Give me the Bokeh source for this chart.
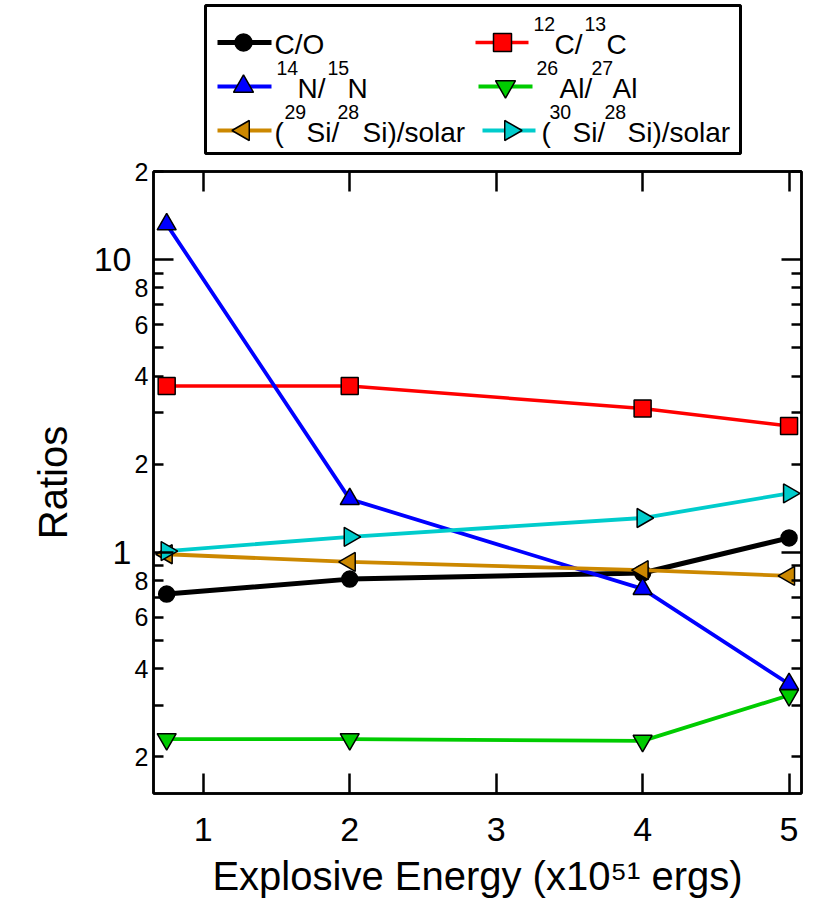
import math
from bokeh.plotting import figure
from bokeh.models import (Range1d, FixedTicker, LogAxis, LinearAxis,
                          CustomJSTickFormatter, ColumnDataSource)
from bokeh.layouts import column
from bokeh.core.properties import value
from bokeh.embed import file_html
from bokeh.resources import INLINE

FONT = "Liberation Sans"

# ---------------- data ----------------
energy = [0.75, 2, 4, 5]
co_ratio = [0.72, 0.81, 0.85, 1.12]
c12_c13 = [3.70, 3.70, 3.10, 2.70]
n14_n15 = [13.2, 1.52, 0.75, 0.355]
al26_al27 = [0.230, 0.230, 0.227, 0.325]
si29_si28 = [0.985, 0.927, 0.869, 0.831]
si30_si28 = [1.01, 1.13, 1.31, 1.59]

x_ticks = [1, 2, 3, 4, 5]
y_major = [1, 10]
y_labeled = [0.2, 0.4, 0.6, 0.8, 2, 4, 6, 8, 20]
y_minor = [0.2, 0.3, 0.4, 0.5, 0.6, 0.7, 0.8, 0.9,
           2, 3, 4, 5, 6, 7, 8, 9, 20]

series = [
    # values, color, marker, angle, size, line width
    (co_ratio, "black", "circle", 0.0, 16, 5),
    (c12_c13, "#ff0000", "square", 0.0, 17, 3.5),
    (n14_n15, "#0000ff", "triangle", 0.0, 19, 3.8),
    (al26_al27, "#00cc00", "inverted_triangle", 0.0, 19, 3.8),
    (si29_si28, "#cc8800", "triangle", math.pi / 2, 19, 3.8),
    (si30_si28, "#00cccc", "triangle", -math.pi / 2, 19, 3.8),
]

# ---------------- main plot ----------------
p = figure(width=832, height=744, y_axis_type="log",
           x_range=Range1d(0.66, 5.085), y_range=Range1d(0.15, 20),
           output_backend="svg", toolbar_location=None,
           min_border_left=153, min_border_right=31,
           min_border_top=15, min_border_bottom=107)
p.grid.visible = False
p.outline_line_color = "black"
p.outline_line_width = 2.5
p.background_fill_color = "white"
p.border_fill_color = "white"

empty = CustomJSTickFormatter(code="return ''")

xa = p.xaxis[0]
xa.ticker = FixedTicker(ticks=x_ticks, minor_ticks=[])
xa.major_tick_in = 20
xa.major_tick_out = 0
xa.minor_tick_in = 0
xa.minor_tick_out = 0
xa.major_tick_line_width = 2.5
xa.axis_line_width = 2.5
xa.major_label_text_font = FONT
xa.major_label_text_font_size = "34px"
xa.major_label_text_color = "black"
xa.major_label_standoff = 24
xa.axis_label = "Explosive Energy (x10\u2075\u00b9 ergs)"
xa.axis_label_text_font = FONT
xa.axis_label_text_font_size = "40px"
xa.axis_label_text_font_style = "normal"
xa.axis_label_text_color = "black"
xa.axis_label_standoff = 10

top = LinearAxis(ticker=FixedTicker(ticks=x_ticks, minor_ticks=[]),
                 formatter=empty, major_tick_in=20, major_tick_out=0,
                 minor_tick_in=0, minor_tick_out=0,
                 major_tick_line_width=2.5, axis_line_width=2.5,
                 major_label_standoff=0)
p.add_layout(top, "above")

ya = p.yaxis[0]
ya.ticker = FixedTicker(ticks=y_major, minor_ticks=y_minor)
ya.formatter = empty
ya.major_tick_in = 20
ya.major_tick_out = 0
ya.minor_tick_in = 10
ya.minor_tick_out = 0
ya.major_tick_line_width = 2.5
ya.minor_tick_line_width = 2.5
ya.minor_tick_line_color = "black"
ya.axis_line_width = 2.5
ya.major_label_standoff = 0

digit_fmt = CustomJSTickFormatter(code="""
const e = Math.floor(Math.log10(tick) + 1e-9);
return String(Math.round(tick / Math.pow(10, e)));
""")
yb = LogAxis(ticker=FixedTicker(ticks=y_labeled, minor_ticks=[]),
             formatter=digit_fmt, major_tick_in=0, major_tick_out=0,
             minor_tick_in=0, minor_tick_out=0,
             axis_line_color=None, major_tick_line_color=None,
             minor_tick_line_color=None,
             major_label_text_font=FONT, major_label_text_font_size="25px",
             major_label_text_color="black", major_label_standoff=5)
p.add_layout(yb, "left")

yc = LogAxis(ticker=FixedTicker(ticks=y_major, minor_ticks=[]),
             formatter=CustomJSTickFormatter(code="return String(tick)"),
             major_tick_in=0, major_tick_out=0,
             minor_tick_in=0, minor_tick_out=0,
             axis_line_color=None, major_tick_line_color=None,
             minor_tick_line_color=None,
             major_label_text_font=FONT, major_label_text_font_size="34px",
             major_label_text_color="black", major_label_standoff=0,
             axis_label="Ratios", axis_label_text_font=FONT,
             axis_label_text_font_size="40px",
             axis_label_text_font_style="normal",
             axis_label_text_color="black", axis_label_standoff=16)
p.add_layout(yc, "left")

yr = LogAxis(ticker=FixedTicker(ticks=y_major, minor_ticks=y_minor),
             formatter=empty, major_tick_in=20, major_tick_out=0,
             minor_tick_in=10, minor_tick_out=0,
             major_tick_line_width=2.5, minor_tick_line_width=2.5,
             minor_tick_line_color="black",
             axis_line_width=2.5, major_label_standoff=0)
p.add_layout(yr, "right")

for vals, color, marker, ang, size, lw in series:
    src = ColumnDataSource(dict(x=energy, y=vals))
    p.line("x", "y", source=src, line_color=color, line_width=lw)
    p.scatter("x", "y", source=src, marker=marker, angle=ang, size=size,
              fill_color=color, line_color="black", line_width=1.5)

# ---------------- legend ----------------
# the column layout aligns this figure's frame with the main frame (page x 153..801)
lg = figure(width=832, height=156, x_range=Range1d(153, 801),
            y_range=Range1d(156, 0), output_backend="svg",
            toolbar_location=None, x_axis_location=None,
            y_axis_location=None, min_border=0)
lg.min_border_left = 0
lg.min_border_right = 0
lg.min_border_top = 0
lg.min_border_bottom = 0
lg.grid.visible = False
lg.outline_line_color = None
lg.background_fill_color = "white"
lg.border_fill_color = "white"

lg.quad(left=[205], right=[740], top=[5], bottom=[153], fill_color=None,
        line_color="black", line_width=3)

M, S = "m", "s"
legend_layout = [
    # row y, line x0, line x1, marker x, text pieces
    (42, 217, 271, 243, [("C/O", 274, M)]),
    (42, 475, 528, 502, [("12", 533, S), ("C/", 554, M), ("13", 584, S), ("C", 606, M)]),
    (86, 217, 271, 243, [("14", 276, S), ("N/", 297, M), ("15", 327, S), ("N", 347, M)]),
    (86, 478, 532, 505, [("26", 536, S), ("Al/", 559, M), ("27", 591, S), ("Al", 612, M)]),
    (130, 217, 271, 243, [("(", 274, M), ("29", 284, S), ("Si/", 306, M), ("28", 337, S), ("Si)/solar", 362, M)]),
    (130, 482, 535, 510, [("(", 541, M), ("30", 549, S), ("Si/", 572, M), ("28", 604, S), ("Si)/solar", 627, M)]),
]

tx, ty, tt, ts = [], [], [], []
for (row_y, lx0, lx1, mx, pieces), (vals, color, marker, ang, size, lw) in zip(legend_layout, series):
    lg.line([lx0, lx1], [row_y, row_y], line_color=color, line_width=lw)
    lg.scatter([mx], [row_y], marker=marker, angle=ang,
               size=size + 1, fill_color=color, line_color="black", line_width=1.5)
    base = row_y + 1.5
    for text, x, kind in pieces:
        tx.append(x)
        tt.append(text)
        if kind == M:
            ty.append(base)
            ts.append("28px")
        else:
            ty.append(base - 20)
            ts.append("19.5px")

lg.text(x="x", y="y", text="t", text_font_size="s",
        source=ColumnDataSource(dict(x=tx, y=ty, t=tt, s=ts)),
        text_font=value(FONT), text_baseline="alphabetic",
        text_align="left", text_color="black")

layout = column(lg, p, spacing=0)
open("out.html", "w").write(file_html(layout, INLINE))
